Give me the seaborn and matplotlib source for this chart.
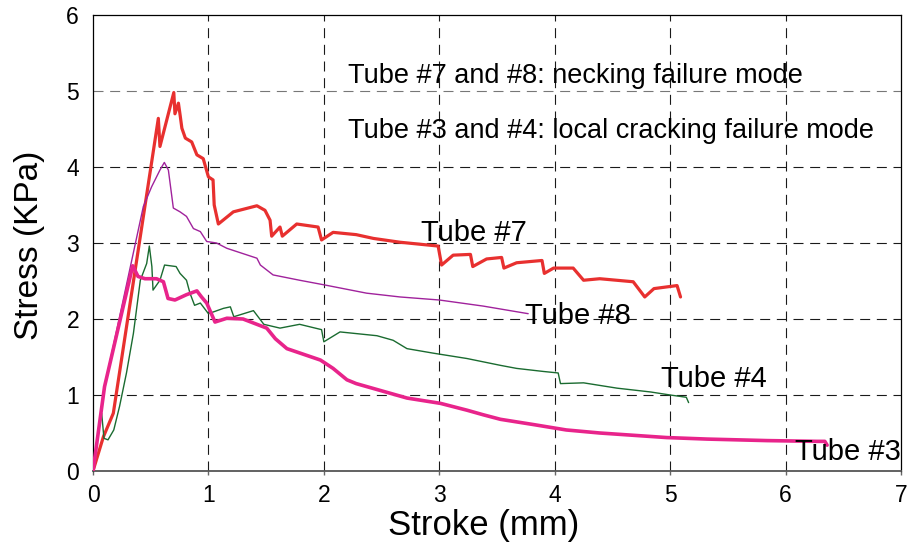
import numpy as np
import pandas as pd
import matplotlib
matplotlib.use("Agg")
import matplotlib.pyplot as plt
import seaborn as sns

# Stress-stroke records for each tube (stroke in mm, stress in KPa)
tube7_stroke = [0, 0.09, 0.176, 0.566, 0.58, 0.70, 0.71, 0.74, 0.755, 0.77, 0.80, 0.855, 0.90,
                0.955, 1.0, 1.04, 1.05, 1.086, 1.216, 1.42, 1.49, 1.534, 1.548, 1.62, 1.64,
                1.765, 1.95, 1.98, 2.08, 2.28, 2.43, 2.66, 2.99, 3.02, 3.12, 3.27, 3.29, 3.41,
                3.54, 3.56, 3.67, 3.89, 3.91, 3.99, 4.16, 4.25, 4.39, 4.68, 4.78, 4.86, 5.06, 5.09]
tube7_stress = [0, 0.45, 0.76, 4.64, 4.27, 4.98, 4.70, 4.84, 4.68, 4.51, 4.38, 4.33, 4.16,
                4.11, 3.87, 3.83, 3.50, 3.25, 3.41, 3.49, 3.43, 3.30, 3.09, 3.21, 3.09,
                3.25, 3.21, 3.04, 3.14, 3.11, 3.06, 3.01, 2.96, 2.71, 2.84, 2.85, 2.69, 2.79,
                2.81, 2.67, 2.74, 2.77, 2.60, 2.67, 2.67, 2.51, 2.53, 2.49, 2.29, 2.40, 2.44, 2.29]

tube8_stroke = [0, 0.10, 0.436, 0.508, 0.58, 0.618, 0.653, 0.696, 0.754, 0.81, 0.87, 0.93,
                0.985, 1.07, 1.16, 1.42, 1.45, 1.56, 1.79, 2.0, 2.37, 2.66, 3.0, 3.38, 3.77]
tube8_stress = [0, 1.11, 3.48, 3.74, 3.96, 4.06, 3.96, 3.46, 3.41, 3.35, 3.19, 3.15,
                3.02, 3.0, 2.93, 2.80, 2.71, 2.58, 2.51, 2.45, 2.34, 2.29, 2.25, 2.17, 2.07]

tube4_stroke = [0, 0.046, 0.075, 0.095, 0.13, 0.18, 0.23, 0.29, 0.35, 0.41, 0.465, 0.488,
                0.51, 0.52, 0.58, 0.62, 0.72, 0.754, 0.81, 0.84, 0.88, 0.93, 1.0, 1.13, 1.19,
                1.22, 1.39, 1.48, 1.62, 1.79, 1.98, 2.0, 2.14, 2.46, 2.60, 2.72, 2.95, 3.24,
                3.53, 3.67, 3.90, 4.03, 4.05, 4.25, 4.54, 4.83, 5.0, 5.14, 5.16]
tube4_stress = [0, 0.50, 0.76, 0.43, 0.41, 0.54, 0.85, 1.29, 1.81, 2.51, 2.73, 2.96,
                2.69, 2.38, 2.51, 2.71, 2.69, 2.60, 2.51, 2.34, 2.18, 2.21, 2.07, 2.14, 2.16,
                2.03, 2.11, 1.93, 1.88, 1.93, 1.86, 1.70, 1.83, 1.78, 1.72, 1.61, 1.55, 1.48,
                1.39, 1.35, 1.31, 1.29, 1.15, 1.16, 1.09, 1.04, 1.0, 0.97, 0.90]

tube3_stroke = [0, 0.10, 0.344, 0.39, 0.45, 0.55, 0.61, 0.65, 0.71, 0.81, 0.90, 0.94, 0.985,
                1.057, 1.16, 1.30, 1.505, 1.58, 1.68, 1.97, 2.08, 2.20, 2.28, 2.72, 3.01, 3.24,
                3.38, 3.53, 3.82, 4.10, 4.39, 4.68, 4.97, 5.32, 5.84, 6.27, 6.34, 6.36]
tube3_stress = [0, 1.11, 2.70, 2.56, 2.53, 2.53, 2.49, 2.27, 2.25, 2.32, 2.37, 2.29, 2.21,
                1.96, 2.01, 2.0, 1.88, 1.74, 1.61, 1.46, 1.35, 1.20, 1.15, 0.96, 0.89, 0.80,
                0.74, 0.68, 0.61, 0.54, 0.50, 0.47, 0.44, 0.42, 0.40, 0.39, 0.39, 0.34]

x_ticks = [0, 1, 2, 3, 4, 5, 6, 7]
y_ticks = [0, 1, 2, 3, 4, 5, 6]

notes = ["Tube #7 and #8: necking failure mode",
         "Tube #3 and #4: local cracking failure mode"]

sns.set_style("white")
plt.rcParams["font.family"] = ["Liberation Sans", "DejaVu Sans"]
plt.rcParams["text.color"] = "black"
plt.rcParams["axes.labelcolor"] = "black"
plt.rcParams["xtick.labelcolor"] = "black"
plt.rcParams["ytick.labelcolor"] = "black"

fig = plt.figure(figsize=(9.07, 5.47), dpi=100)
ax = fig.add_axes([93 / 907, 76 / 547, 808 / 907, 456 / 547])

curves = [
    ("Tube #7", tube7_stroke, tube7_stress, "#e8302f", 2.3),
    ("Tube #8", tube8_stroke, tube8_stress, "#a0229c", 1.0),
    ("Tube #4", tube4_stroke, tube4_stress, "#1a6b30", 1.0),
    ("Tube #3", tube3_stroke, tube3_stress, "#e8248b", 2.6),
]
for name, xs, ys, color, lw in curves:
    df = pd.DataFrame({"Stroke": xs, "Stress": ys})
    sns.lineplot(data=df, x="Stroke", y="Stress", ax=ax, color=color, linewidth=lw,
                 sort=False, estimator=None, zorder=3)

ax.set_xlim(0, 7)
ax.set_ylim(0, 6)
ax.set_xticks(x_ticks)
ax.set_yticks(y_ticks)
ax.set_xticklabels([str(v) for v in x_ticks])
ax.set_yticklabels([str(v) for v in y_ticks])
ax.tick_params(axis="x", labelsize=16.5, length=3, width=1, color="#666666", pad=6,
               direction="out", bottom=True, labelcolor="black")
ax.tick_params(axis="y", labelsize=16.5, length=0, pad=10, left=True, labelcolor="black")

# dashed interior grid
dash = (0, (9, 6))
for xv in x_ticks[1:-1]:
    ax.axvline(xv, color="#1a1a1a", lw=0.8, ls=dash, zorder=1)
for yv in y_ticks[1:-1]:
    ax.axhline(yv, color="#777777" if yv == 5 else "#1a1a1a", lw=0.8, ls=dash, zorder=1)

for side in ["left", "top", "right"]:
    ax.spines[side].set_visible(True)
    ax.spines[side].set_color("black")
    ax.spines[side].set_linewidth(0.9)
ax.spines["bottom"].set_color("#555555")
ax.spines["bottom"].set_linewidth(1.3)

ax.set_xlabel("Stroke (mm)", fontsize=25, color="black")
ax.xaxis.label.set_va("baseline")
ax.xaxis.set_label_coords(0.483, -0.140)
ax.set_ylabel("Stress (KPa)", fontsize=24, color="black")
ax.yaxis.label.set_va("center")
ax.yaxis.set_label_coords(-0.079, 0.496)

# curve labels
label_kw = dict(fontsize=21, va="baseline", ha="left", zorder=4, color="black")
ax.text(2.84, 3.02, "Tube #7", **label_kw)
ax.text(3.74, 1.94, "Tube #8", **label_kw)
ax.text(4.92, 1.11, "Tube #4", **label_kw)
ax.text(6.08, 0.15, "Tube #3", **label_kw)

note_kw = dict(fontsize=19.5, va="baseline", ha="left", zorder=4, color="black")
ax.text(2.21, 5.10, notes[0], **note_kw)
ax.text(2.21, 4.38, notes[1], **note_kw)

fig.savefig("out.png", dpi=100)
